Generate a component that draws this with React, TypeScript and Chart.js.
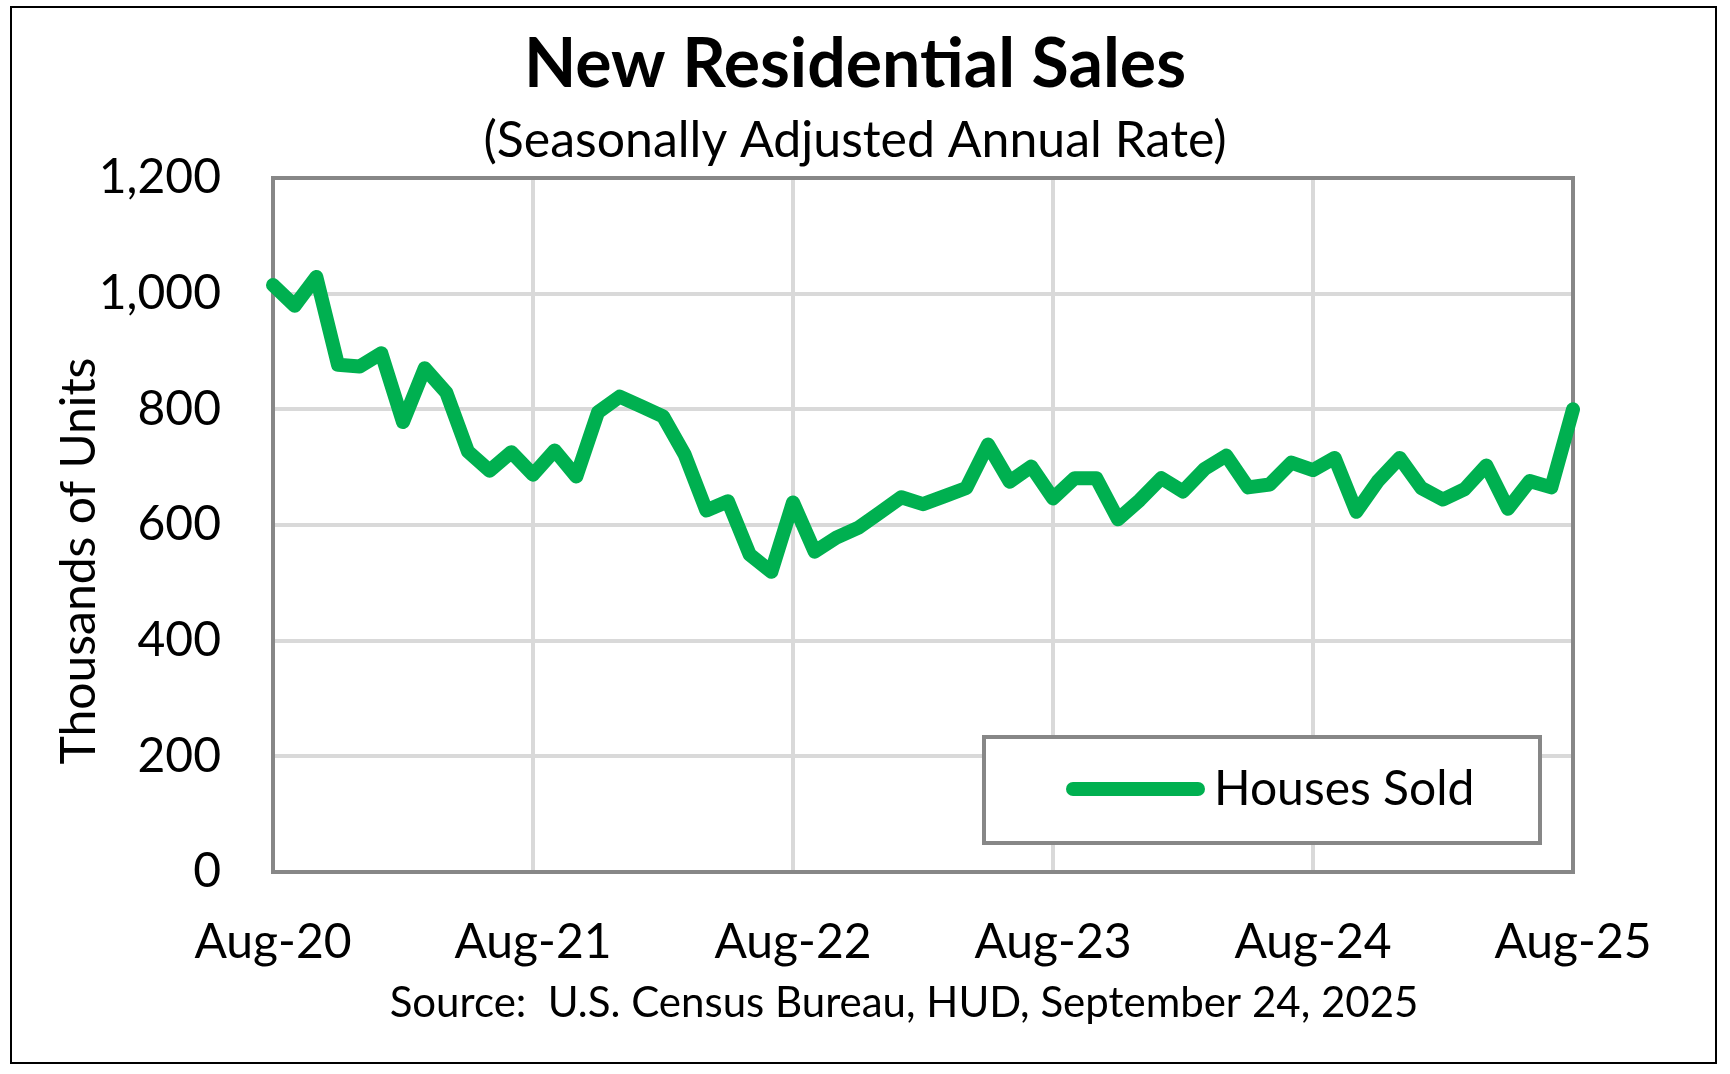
import React, { useEffect, useRef } from "react";
import { Chart, registerables } from "chart.js";

Chart.register(...registerables);

// ---- data ----
const months = [
  "Aug-20", "Sep-20", "Oct-20", "Nov-20", "Dec-20", "Jan-21", "Feb-21", "Mar-21", "Apr-21", "May-21", "Jun-21", "Jul-21",
  "Aug-21", "Sep-21", "Oct-21", "Nov-21", "Dec-21", "Jan-22", "Feb-22", "Mar-22", "Apr-22", "May-22", "Jun-22", "Jul-22",
  "Aug-22", "Sep-22", "Oct-22", "Nov-22", "Dec-22", "Jan-23", "Feb-23", "Mar-23", "Apr-23", "May-23", "Jun-23", "Jul-23",
  "Aug-23", "Sep-23", "Oct-23", "Nov-23", "Dec-23", "Jan-24", "Feb-24", "Mar-24", "Apr-24", "May-24", "Jun-24", "Jul-24",
  "Aug-24", "Sep-24", "Oct-24", "Nov-24", "Dec-24", "Jan-25", "Feb-25", "Mar-25", "Apr-25", "May-25", "Jun-25", "Jul-25",
  "Aug-25",
];

const housesSold = [
  1015, 979, 1029, 877, 874, 897, 778, 871, 829, 727, 694, 726,
  687, 729, 684, 795, 822, 805, 788, 722, 625, 641, 549, 519,
  639, 554, 578, 595, 621, 648, 636, 650, 664, 739, 675, 701,
  646, 681, 681, 610, 643, 681, 658, 697, 720, 665, 670, 708,
  695, 716, 623, 676, 716, 664, 644, 662, 703, 628, 676, 665,
  800,
];

const xTickLabels = ["Aug-20", "Aug-21", "Aug-22", "Aug-23", "Aug-24", "Aug-25"];
const yTickValues = [0, 200, 400, 600, 800, 1000, 1200];

const titleText = "New Residential Sales";
const subtitleText = "(Seasonally Adjusted Annual Rate)";
const yAxisTitle = "Thousands of Units";
const sourceText = "Source:  U.S. Census Bureau, HUD, September 24, 2025";
const seriesName = "Houses Sold";

// ---- styles ----
const FONT = "Lato, 'Open Sans', sans-serif";
const GREEN = "#00B050";
const GRID = "#D9D9D9";
const AXIS = "#878787";

const decorPlugin = {
  id: "decor",
  beforeDatasetsDraw(chart: any) {
    const { ctx, chartArea: a } = chart;
    ctx.save();
    ctx.strokeStyle = AXIS;
    ctx.lineWidth = 4;
    ctx.strokeRect(a.left, a.top, a.right - a.left, a.bottom - a.top);
    ctx.restore();
  },
  afterDraw(chart: any) {
    const { ctx, chartArea: a } = chart;
    ctx.save();
    ctx.fillStyle = "#000";
    ctx.textBaseline = "alphabetic";

    // title
    ctx.textAlign = "center";
    ctx.font = `bold 68px ${FONT}`;
    ctx.fillText(titleText, 855, 87);
    // subtitle
    ctx.font = `50px ${FONT}`;
    ctx.fillText(subtitleText, 855, 157);

    // y axis title
    ctx.save();
    ctx.translate(95, 561);
    ctx.rotate(-Math.PI / 2);
    ctx.font = `48px ${FONT}`;
    ctx.textAlign = "center";
    ctx.fillText(yAxisTitle, 0, 0);
    ctx.restore();

    // source
    ctx.font = `42px ${FONT}`;
    ctx.textAlign = "center";
    ctx.fillText(sourceText, 904, 1017);

    // legend box
    const lx2 = a.right - 33;
    const ly2 = a.bottom - 29;
    const lx1 = lx2 - 556;
    const ly1 = ly2 - 106;
    ctx.fillStyle = "#fff";
    ctx.fillRect(lx1, ly1, lx2 - lx1, ly2 - ly1);
    ctx.strokeStyle = AXIS;
    ctx.lineWidth = 4;
    ctx.strokeRect(lx1, ly1, lx2 - lx1, ly2 - ly1);
    const ds = chart.data.datasets[0];
    ctx.strokeStyle = ds.borderColor;
    ctx.lineWidth = ds.borderWidth;
    ctx.lineCap = "round";
    ctx.beginPath();
    ctx.moveTo(lx1 + 89, ly1 + 52);
    ctx.lineTo(lx1 + 214, ly1 + 52);
    ctx.stroke();
    ctx.fillStyle = "#000";
    ctx.textAlign = "left";
    ctx.font = `48px ${FONT}`;
    ctx.fillText(ds.label, lx1 + 230, ly1 + 68);
    ctx.restore();
  },
};

export default function App() {
  const canvasRef = useRef<HTMLCanvasElement | null>(null);

  useEffect(() => {
    const canvas = canvasRef.current;
    if (!canvas) return;
    const chart = new Chart(canvas, {
      type: "line",
      data: {
        labels: months,
        datasets: [
          {
            label: seriesName,
            data: housesSold,
            borderColor: GREEN,
            backgroundColor: GREEN,
            borderWidth: 14,
            pointRadius: 0,
            borderJoinStyle: "round",
            borderCapStyle: "round",
            tension: 0,
            fill: false,
          },
        ],
      },
      options: {
        responsive: false,
        devicePixelRatio: 1,
        animation: false,
        layout: { padding: { top: 178, left: 0, right: 157, bottom: 102 } },
        plugins: {
          legend: { display: false },
          title: { display: false },
          tooltip: { enabled: false },
        },
        scales: {
          x: {
            type: "category",
            offset: false,
            afterFit: (scale: any) => {
              scale.height = 100;
            },
            grid: {
              color: GRID,
              lineWidth: 4,
              drawTicks: false,
            },
            border: { display: true, color: AXIS, width: 4 },
            ticks: {
              autoSkip: false,
              maxRotation: 0,
              minRotation: 0,
              padding: 42,
              color: "#000",
              font: { family: FONT, size: 48 },
              callback: (_v: any, index: number) =>
                xTickLabels.includes(months[index]) ? months[index] : null,
            },
          },
          y: {
            min: yTickValues[0],
            max: yTickValues[yTickValues.length - 1],
            afterFit: (scale: any) => {
              scale.width = 273;
            },
            afterBuildTicks: (scale: any) => {
              scale.ticks = yTickValues.map((v) => ({ value: v }));
            },
            grid: {
              color: GRID,
              lineWidth: 4,
              drawTicks: false,
            },
            border: { display: true, color: AXIS, width: 4 },
            ticks: {
              padding: 52,
              color: "#000",
              font: { family: FONT, size: 48 },
              callback: (v: any) => Number(v).toLocaleString("en-US"),
            },
          },
        },
      },
      plugins: [decorPlugin],
    });
    return () => chart.destroy();
  }, []);

  return (
    <div style={{ position: "absolute", left: 0, top: 0, width: 1730, height: 1074, background: "#fff" }}>
      <canvas ref={canvasRef} width={1730} height={1074} style={{ display: "block", width: 1730, height: 1074 }} />
      <div
        style={{
          position: "absolute",
          left: 10,
          top: 6,
          width: 1707,
          height: 1058,
          border: "2.5px solid #000",
          boxSizing: "border-box",
          pointerEvents: "none",
        }}
      />
    </div>
  );
}
